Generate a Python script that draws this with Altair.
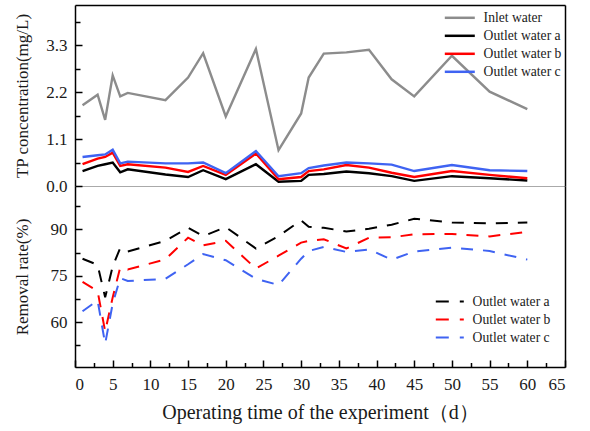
import altair as alt
import pandas as pd

# ---------------- data ----------------
days = [1, 3, 4, 5, 6, 7, 12, 15, 17, 20, 24, 27, 30, 31, 33, 36, 39, 42, 45, 50, 55, 60]

inlet = [1.89, 2.14, 1.55, 2.59, 2.10, 2.18, 2.01, 2.54, 3.11, 1.63, 3.21, 0.84,
         1.70, 2.54, 3.10, 3.13, 3.19, 2.50, 2.10, 3.05, 2.21, 1.80]
out_a = [0.35, 0.47, 0.51, 0.55, 0.32, 0.39, 0.27, 0.21, 0.37, 0.16, 0.51, 0.10,
         0.12, 0.26, 0.28, 0.34, 0.30, 0.23, 0.12, 0.23, 0.18, 0.13]
out_b = [0.51, 0.64, 0.68, 0.78, 0.47, 0.51, 0.43, 0.33, 0.47, 0.26, 0.76, 0.16,
         0.21, 0.35, 0.39, 0.49, 0.43, 0.31, 0.21, 0.35, 0.26, 0.18]
out_c = [0.68, 0.72, 0.74, 0.85, 0.53, 0.57, 0.53, 0.53, 0.55, 0.30, 0.82, 0.23,
         0.30, 0.42, 0.48, 0.55, 0.53, 0.50, 0.35, 0.49, 0.37, 0.35]

rem_a = [80.5, 78.5, 68.0, 78.0, 84.0, 82.8, 86.3, 90.5, 87.8, 90.7, 83.8, 87.8,
         92.9, 90.8, 90.5, 89.3, 90.2, 91.5, 93.4, 92.2, 91.9, 92.2]
rem_b = [73.0, 70.0, 57.0, 68.0, 77.7, 77.0, 80.3, 87.3, 84.8, 86.3, 77.3, 81.5,
         85.7, 86.3, 86.8, 83.8, 87.3, 87.4, 88.4, 88.5, 87.7, 89.2]
rem_c = [63.5, 67.0, 53.0, 66.0, 74.2, 73.3, 74.0, 78.7, 82.0, 80.0, 74.0, 72.0,
         80.5, 83.0, 84.3, 82.7, 83.5, 80.2, 82.8, 84.1, 83.0, 80.2]

top_names = ["Inlet water", "Outlet water a", "Outlet water b", "Outlet water c"]
top_colors = ["#8c8c8c", "#000000", "#ff0000", "#3f63f2"]
bot_names = ["Outlet water a", "Outlet water b", "Outlet water c"]
bot_colors = ["#000000", "#ff0000", "#3f63f2"]

x_major = [0, 5, 10, 15, 20, 25, 30, 35, 40, 45, 50, 55, 60, 65]
x_minor = [2.5, 7.5, 12.5, 17.5, 22.5, 27.5, 32.5, 37.5, 42.5, 47.5, 52.5, 57.5, 62.5]
tp_major = [0.0, 1.1, 2.2, 3.3]
tp_minor = [0.55, 1.65, 2.75, 3.85]
rr_major = [60, 75, 90]
rr_minor = [52.5, 67.5, 82.5, 97.5]

top_rows = []
for name, vals in zip(top_names, [inlet, out_a, out_b, out_c]):
    for d, v in zip(days, vals):
        top_rows.append({"day": d, "tp": v, "series": name})
top_df = pd.DataFrame(top_rows)

bot_rows = []
for name, vals in zip(bot_names, [rem_a, rem_b, rem_c]):
    for d, v in zip(days, vals):
        bot_rows.append({"day": d, "rr": v, "series2": name})
bot_df = pd.DataFrame(bot_rows)

# ---------------- styling ----------------
FONT = "Liberation Serif"
TXT = "#1a1a1a"
W, H = 490, 181
xs = alt.Scale(domain=[0, 65], nice=False, zero=False)
ys_top = alt.Scale(domain=[0, 4.24], nice=False, zero=False)
ys_bot = alt.Scale(domain=[45.5, 104], nice=False, zero=False)


def frame_axis(orient, color="black", width=1.5):
    return alt.Axis(orient=orient, domain=True, domainColor=color, domainWidth=width,
                    ticks=False, labels=False, title=None, grid=False)


def tick_axis(orient, values, size, offset):
    return alt.Axis(orient=orient, offset=offset, values=values, domain=False,
                    ticks=True, tickSize=size, tickColor="black", tickWidth=1.5,
                    labels=False, title=None, grid=False)


def main_y_axis(values, fmt, title):
    return alt.Axis(orient="left", values=values, format=fmt, domain=True,
                    domainColor="black", domainWidth=1.5, ticks=False, grid=False,
                    labelFont=FONT, labelFontSize=17, labelColor=TXT,
                    labelPadding=8, title=title, titleFont=FONT, titleFontSize=17,
                    titleFontWeight="normal", titleColor=TXT, titleX=-53,
                    titleBaseline="middle")


# ---------------- top panel ----------------
top_lines = alt.Chart(top_df).mark_line(strokeWidth=2.4).encode(
    x=alt.X("day:Q", scale=xs, axis=frame_axis("top")),
    y=alt.Y("tp:Q", scale=ys_top, axis=main_y_axis(tp_major, ".1f", "TP concentration(mg/L)")),
    color=alt.Color("series:N", scale=alt.Scale(domain=top_names, range=top_colors),
                    legend=alt.Legend(title=None, orient="none", legendX=370, legendY=6,
                                      symbolType="M-3,0H3", symbolStrokeWidth=2.5,
                                      symbolSize=100, symbolOffset=8,
                                      labelFont=FONT, labelFontSize=13.6,
                                      labelColor=TXT, labelOffset=17, rowPadding=3,
                                      padding=0)),
    order=alt.Order("day:Q"),
)
top_t1 = alt.Chart(top_df).mark_point(opacity=0).encode(
    x=alt.X("day:Q", scale=xs, axis=frame_axis("bottom", "#aaaaaa", 1.2)),
    y=alt.Y("tp:Q", scale=ys_top, axis=tick_axis("right", tp_major, 7, -W)),
)
top_t2 = alt.Chart(top_df).mark_point(opacity=0).encode(
    x=alt.X("day:Q", scale=xs, axis=None),
    y=alt.Y("tp:Q", scale=ys_top, axis=tick_axis("right", tp_minor, 5, -W)),
)
top_t3 = alt.Chart(top_df).mark_point(opacity=0).encode(
    x=alt.X("day:Q", scale=xs, axis=None),
    y=alt.Y("tp:Q", scale=ys_top, axis=frame_axis("right")),
)
top = alt.layer(top_lines, top_t1, top_t2, top_t3).resolve_axis(
    x="independent", y="independent").properties(width=W, height=H)

# ---------------- bottom panel ----------------
bot_lines = alt.Chart(bot_df).mark_line(strokeWidth=2, strokeDash=[12, 10]).encode(
    x=alt.X("day:Q", scale=xs,
            axis=alt.Axis(orient="bottom", values=x_major, domain=True, domainColor="black",
                          domainWidth=1.5, ticks=False, grid=False, labelFont=FONT,
                          labelFontSize=17, labelColor=TXT, labelPadding=9,
                          title="Operating time of the experiment（d）", titleFont=FONT,
                          titleFontSize=20, titleFontWeight="normal", titleColor=TXT,
                          titlePadding=10)),
    y=alt.Y("rr:Q", scale=ys_bot, axis=main_y_axis(rr_major, "d", "Removal rate(%)")),
    color=alt.Color("series2:N", scale=alt.Scale(domain=bot_names, range=bot_colors),
                    legend=alt.Legend(title=None, orient="none", legendX=361, legendY=108.7,
                                      symbolType="M-2.8,0H2.8", symbolStrokeWidth=2,
                                      symbolDash=[13, 11], symbolSize=100, symbolOffset=7,
                                      labelFont=FONT, labelFontSize=13.6,
                                      labelColor=TXT, labelOffset=16, rowPadding=3,
                                      padding=0)),
    order=alt.Order("day:Q"),
)
bot_t1 = alt.Chart(bot_df).mark_point(opacity=0).encode(
    x=alt.X("day:Q", scale=xs, axis=tick_axis("top", x_major, 7, -H)),
    y=alt.Y("rr:Q", scale=ys_bot, axis=tick_axis("right", rr_major, 7, -W)),
)
bot_t2 = alt.Chart(bot_df).mark_point(opacity=0).encode(
    x=alt.X("day:Q", scale=xs, axis=tick_axis("top", x_minor, 4.5, -H)),
    y=alt.Y("rr:Q", scale=ys_bot, axis=tick_axis("right", rr_minor, 5, -W)),
)
bot_t3 = alt.Chart(bot_df).mark_point(opacity=0).encode(
    x=alt.X("day:Q", scale=xs, axis=None),
    y=alt.Y("rr:Q", scale=ys_bot, axis=frame_axis("right")),
)
bottom = alt.layer(bot_lines, bot_t1, bot_t2, bot_t3).resolve_axis(
    x="independent", y="independent").properties(width=W, height=H)

chart = alt.vconcat(top, bottom, spacing=0, bounds="flush").resolve_scale(
    color="independent").properties(
    padding={"left": 12, "top": 5, "right": 5, "bottom": 5},
    background="white",
).configure(font=FONT).configure_view(stroke=None).configure_axis(
    labelFont=FONT, titleFont=FONT).configure_legend(labelFont=FONT)

chart.save("out.html", embed_options={"renderer": "svg", "actions": False})
